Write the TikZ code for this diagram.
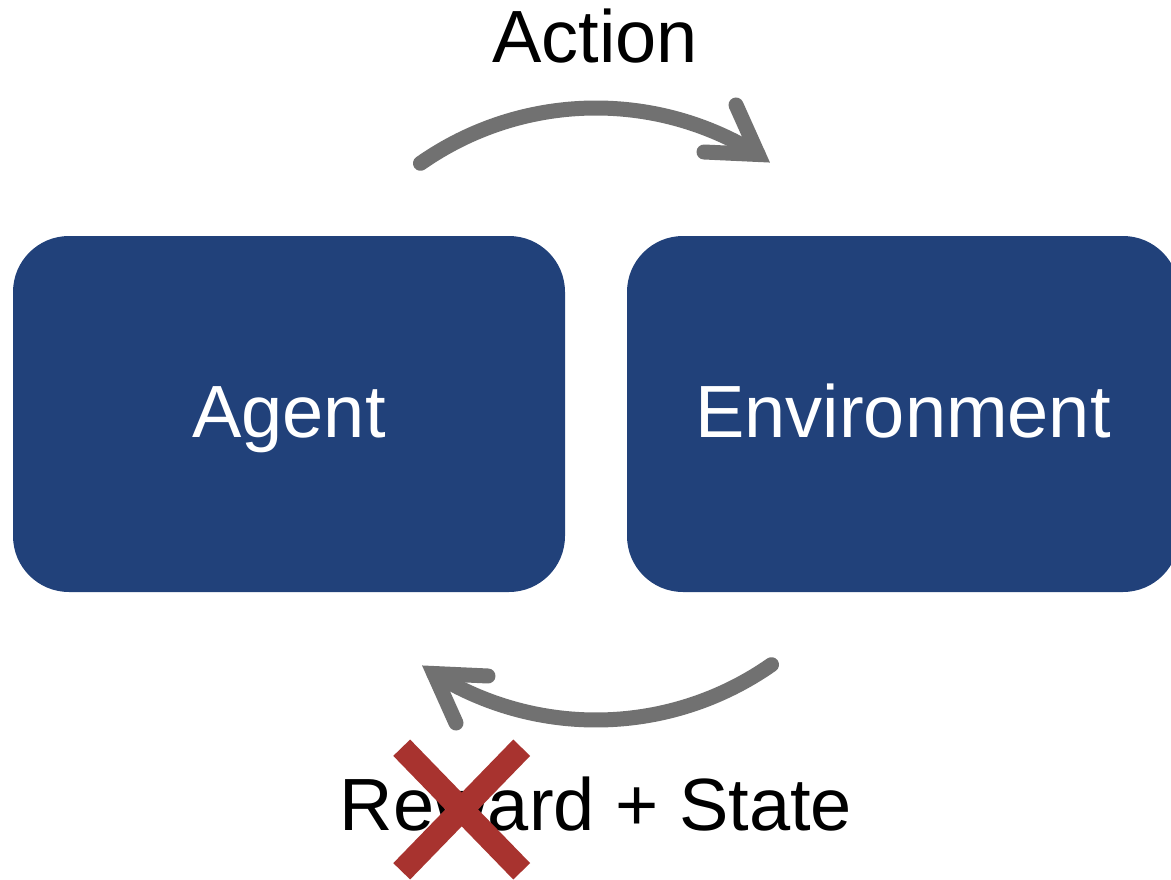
\documentclass[tikz,border=0pt]{standalone}
\usepackage{fontspec}
\setmainfont{Liberation Sans}
\usetikzlibrary{calc}
\definecolor{boxblue}{HTML}{21417A}
\definecolor{arrowgray}{HTML}{717171}
\definecolor{crossred}{HTML}{A8332F}
\tikzset{
  bigtext/.style={font=\fontsize{74}{80}\selectfont, inner sep=0pt},
  mainbox/.style={bigtext, fill=boxblue, text=white, rounded corners=56,
    minimum width=552, minimum height=356, text height=58pt, text depth=12pt},
  arcline/.style={draw=arrowgray, line width=15pt, line cap=round},
  headline/.style={draw=arrowgray, line width=15pt, line cap=round, line join=miter},
  crossline/.style={draw=crossred, line width=23.5pt, line cap=butt}
}
\begin{document}
\begin{tikzpicture}[x=1pt, y=1pt]
\clip (0,0) rectangle (1171,-880);
\fill[white] (0,0) rectangle (1171,-880);
\node[mainbox] (agent) at (289,-414) {Agent};
\node[mainbox] (env) at (903,-414) {Environment};
\node[bigtext, anchor=base] (action) at (595,-63) {Action};
\node[bigtext, anchor=base] (reward) at (596,-830) {Reward + State};
\coordinate (c) at (596,-414);
% top arrow
\coordinate (ts) at ($(c)+(125:306)$);
\coordinate (tv) at ($(c)+(58:306)$);
\coordinate (tb1) at (736,-105);
\coordinate (tb2) at (704,-152);
\draw[arcline] (ts) arc[start angle=125, end angle=58, radius=306];
\draw[headline] (tb1) -- (tv) -- (tb2);
% bottom arrow
\coordinate (bs) at ($(c)+(-55:306)$);
\coordinate (bv) at ($(c)+(-122:306)$);
\coordinate (bb1) at (456,-723);
\coordinate (bb2) at (488,-676);
\draw[arcline] (bs) arc[start angle=-55, end angle=-122, radius=306];
\draw[headline] (bb1) -- (bv) -- (bb2);
% cross
\coordinate (x1) at (401.7,-747.7);
\coordinate (x2) at (521.7,-871.3);
\coordinate (x3) at (521.7,-747.7);
\coordinate (x4) at (401.7,-871.3);
\draw[crossline] (x1) -- (x2);
\draw[crossline] (x3) -- (x4);
\end{tikzpicture}
\end{document}
